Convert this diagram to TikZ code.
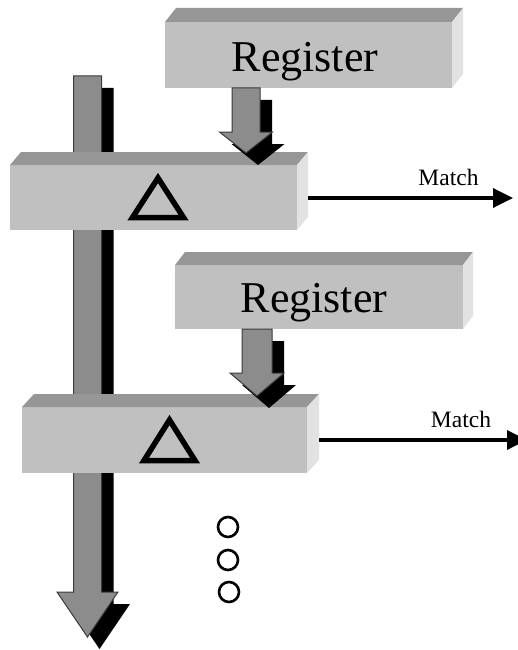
\documentclass[tikz,border=0pt]{standalone}
\usepackage{fontspec}
\setmainfont{Liberation Serif}
\usetikzlibrary{arrows.meta,calc}

\definecolor{frontgray}{HTML}{C0C0C0}
\definecolor{topgray}{HTML}{969696}
\definecolor{sidegray}{HTML}{E2E2E2}
\definecolor{arrowgray}{HTML}{8C8C8C}
\definecolor{edgegray}{HTML}{3C3C3C}

\tikzset{
  frontface/.style={rectangle, fill=frontgray, draw=none, inner sep=0pt, outer sep=0pt},
  topface/.style={fill=topgray},
  sideface/.style={fill=sidegray},
  arrowbody/.style={fill=arrowgray, draw=edgegray, line width=1pt, line join=miter},
  arrowshadow/.style={fill=black},
  regtext/.style={anchor=base, inner sep=0pt, font=\fontsize{44}{44}\selectfont},
  matchtext/.style={anchor=base, inner sep=0pt, font=\fontsize{23.5}{23.5}\selectfont},
  delta/.style={draw=black, line width=5.5pt, line join=miter},
  matchline/.style={draw=black, line width=3.5pt, -{Triangle[length=20pt,width=19pt]}},
  dot/.style={circle, draw=black, line width=2.6pt, minimum size=20pt, inner sep=0pt},
}

% top and side faces of a box whose front face is the node #1, depth (#2,#3)
\newcommand\boxfaces[3]{%
  \fill[topface] (#1.north west) -- (#1.north east) -- ++(#2,-#3)
    -- ([shift={(#2,-#3)}]#1.north west) -- cycle;
  \fill[sideface] (#1.north east) -- ++(#2,-#3)
    -- ([shift={(#2,-#3)}]#1.south east) -- (#1.south east) -- cycle;}

% downward block arrow with a black drop shadow
% #1 centre x, #2 top y, #3 tip y, #4 shaft half width, #5 head half width, #6 head length
\newcommand\blockdown[6]{%
  \fill[arrowshadow, shift={(12,12)}] (#1-#4,#2) -- (#1+#4,#2) -- (#1+#4,#3-#6)
    -- (#1+#5,#3-#6) -- (#1,#3) -- (#1-#5,#3-#6) -- (#1-#4,#3-#6) -- cycle;
  \filldraw[arrowbody] (#1-#4,#2) -- (#1+#4,#2) -- (#1+#4,#3-#6)
    -- (#1+#5,#3-#6) -- (#1,#3) -- (#1-#5,#3-#6) -- (#1-#4,#3-#6) -- cycle;}

\begin{document}
\begin{tikzpicture}[x=1pt, y=-1pt]
\useasboundingbox (0,0) rectangle (517,650);

% main data flow arrow, passing behind the comparator boxes
\blockdown{87.5}{76}{637}{14}{30.5}{45}

% first register and comparator
\node[frontface, minimum width=287pt, minimum height=66pt] (reg1) at (308.5,55) {};
\boxfaces{reg1}{11}{14}
\node[regtext] (reg1label) at (305,72) {Register};

\node[frontface, minimum width=287pt, minimum height=65pt] (cmp1) at (153.5,197.5) {};
\boxfaces{cmp1}{11}{13}
\draw[delta] (132.5,217.5) -- (158,178) -- (183.5,217.5) -- cycle;

\blockdown{246}{88}{153}{14}{26.5}{21}

\coordinate (match1end) at (513,198);
\draw[matchline] ($(cmp1.east)+(11,0.5)$) -- (match1end);
\node[matchtext] (match1) at (448.5,185) {Match};

% second register and comparator
\node[frontface, minimum width=288pt, minimum height=64pt] (reg2) at (319,297) {};
\boxfaces{reg2}{10}{13}
\node[regtext] (reg2label) at (314,312) {Register};

\node[frontface, minimum width=285pt, minimum height=66pt] (cmp2) at (164.5,440) {};
\boxfaces{cmp2}{12}{13}
\draw[delta] (144,460.5) -- (169.5,420) -- (195,460.5) -- cycle;

\blockdown{257}{329}{396}{15}{27}{23}

\coordinate (match2end) at (527,440);
\draw[matchline] ($(cmp2.east)+(12,0)$) -- (match2end);
\node[matchtext] (match2) at (461,427) {Match};

% continuation dots
\node[dot] (dot1) at (228,527) {};
\node[dot] (dot2) at (228,560) {};
\node[dot] (dot3) at (229,592) {};
\end{tikzpicture}
\end{document}
